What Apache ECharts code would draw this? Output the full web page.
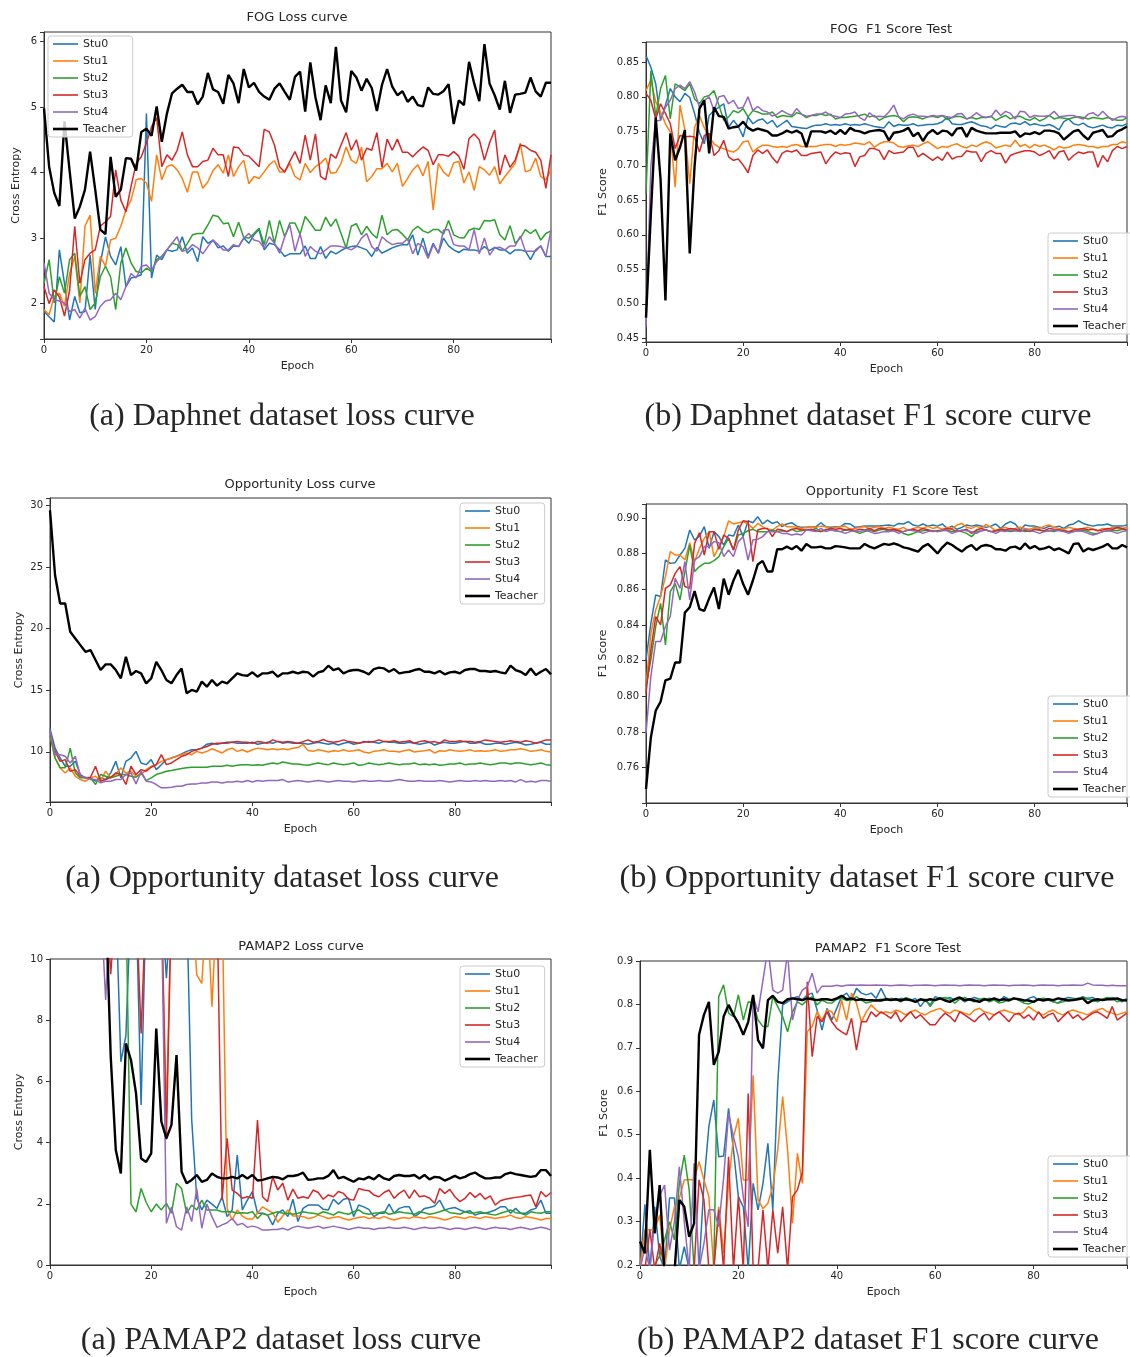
<!DOCTYPE html>
<html>
<head>
<meta charset="utf-8">
<script src="https://cdn.jsdelivr.net/npm/echarts@6/dist/echarts.min.js"></script>
<style>
  html, body { margin: 0; padding: 0; background: #fff; }
  #chart { width: 1130px; height: 1357px; }
</style>
</head>
<body>
<div id="chart"></div>
<script>
// ---- Daphnet (FOG) loss ----
var dLossS0 = [1.88,1.80,1.72,2.82,2.31,1.75,2.11,1.86,1.88,2.74, 1.91,2.62,3.02,2.72,2.59,2.87,2.26,2.39,2.41,2.44,
  4.90,2.39,2.74,2.67,2.82,2.80,2.82,3.02,2.77,2.85, 2.64,3.02,2.92,2.97,2.85,2.88,2.80,2.88,2.87,3.00,
  2.92,3.05,3.13,2.82,2.92,2.90,2.82,2.72,2.76,2.76, 2.76,2.88,2.69,2.69,2.87,2.69,2.80,2.76,2.81,2.85,
  2.87,2.88,2.85,2.82,2.72,2.86,2.77,2.81,2.85,2.88, 2.90,2.90,3.05,2.74,3.00,2.72,2.92,2.77,3.00,2.88,
  2.82,2.78,2.83,2.82,2.82,2.80,2.87,2.81,2.86,2.82, 2.82,2.76,2.82,2.82,2.80,2.67,2.82,2.88,2.72,2.72];
var dLossS1 = [1.91,1.83,2.11,2.16,1.96,2.46,2.72,2.01,3.18,3.35, 2.16,2.72,2.57,2.97,3.00,3.18,3.43,3.58,3.89,3.91,
  3.84,3.56,4.27,3.89,4.09,4.12,4.04,3.91,3.70,4.01, 4.01,3.76,3.86,4.03,4.12,3.99,4.27,3.94,4.09,4.19,
  3.83,3.94,3.91,4.01,4.12,4.18,4.01,4.01,4.14,3.94, 3.89,4.14,4.00,4.09,4.14,4.22,3.99,4.00,4.14,4.39,
  4.19,4.14,4.39,3.86,3.94,4.06,4.06,4.14,4.01,4.14, 3.79,3.91,4.04,4.12,3.95,4.17,3.43,4.14,4.01,3.94,
  4.15,4.17,3.84,4.01,3.73,4.09,4.04,3.96,4.09,3.83, 3.94,4.04,4.14,4.45,4.01,4.04,4.22,3.94,3.89,4.04];
var dLossS2 = [2.31,2.67,2.01,2.41,2.16,2.67,2.77,2.11,2.26,1.91, 2.01,2.41,2.57,2.41,1.91,2.62,2.85,2.62,2.49,2.47,
  2.54,2.49,2.67,2.72,2.82,2.92,2.90,2.80,2.92,3.05, 3.07,3.07,3.20,3.35,3.33,3.22,3.23,3.02,3.24,3.01,
  3.00,3.07,3.15,2.90,3.27,2.92,3.27,3.02,3.23,3.23, 3.06,3.33,3.23,3.12,3.12,3.32,3.18,3.29,3.07,2.85,
  3.18,3.22,3.05,3.18,3.07,3.00,3.35,3.05,3.12,3.13, 3.06,2.97,3.12,3.18,3.11,3.08,3.13,3.13,3.06,3.27,
  3.05,3.01,3.00,3.12,3.15,3.13,3.27,3.26,3.28,3.05, 2.97,3.19,2.92,3.00,3.13,3.07,3.13,2.97,3.07,3.11];
var dLossS3 = [2.26,2.00,2.21,2.10,1.81,2.20,3.18,2.31,2.67,2.77, 2.82,3.18,3.25,3.33,4.04,3.58,3.40,3.79,4.14,4.24,
  4.45,4.70,4.84,4.09,4.27,4.19,4.34,4.62,4.27,4.09, 4.09,4.17,4.19,4.37,4.27,4.27,3.94,4.39,4.38,4.27,
  4.25,4.17,4.09,4.66,4.62,4.42,4.09,4.01,4.17,4.32, 4.14,4.57,4.19,4.59,3.94,3.89,4.28,4.22,4.42,4.61,
  4.34,4.50,4.19,4.37,4.34,4.61,4.08,4.51,4.34,4.51, 4.31,4.31,4.24,4.32,4.39,4.34,4.12,4.27,4.27,4.25,
  4.32,4.25,4.05,4.52,4.59,4.50,4.19,4.45,4.65,3.96, 4.27,4.08,4.19,4.42,4.40,4.34,4.31,4.19,3.76,4.27];
var dLossS4 = [2.62,2.16,2.06,2.04,2.01,1.88,1.91,1.78,1.93,1.75, 1.80,1.96,2.04,2.06,2.16,2.06,2.26,2.46,2.39,2.57,
  2.59,2.51,2.64,2.72,2.82,2.92,3.02,2.80,2.82,2.90, 2.85,2.76,2.87,2.97,2.90,2.82,2.82,2.90,2.87,3.00,
  3.07,2.97,2.95,2.85,3.02,2.92,2.77,3.02,3.20,2.80, 3.07,2.72,2.87,2.80,2.76,2.82,2.88,2.88,2.87,2.85,
  2.82,2.87,3.00,3.07,2.87,2.80,3.02,2.95,2.90,2.92, 2.92,2.99,2.76,2.92,2.87,2.69,2.90,2.77,3.12,3.13,
  2.90,2.88,2.88,2.82,3.13,2.76,3.00,2.74,2.85,2.86, 2.82,2.88,2.88,3.03,2.80,2.80,2.80,2.88,2.72,3.13];
var dLossT = [4.98,4.09,3.69,3.49,4.78,4.03,3.30,3.48,3.74,4.32, 3.74,3.13,3.06,4.24,3.63,3.74,4.22,4.21,4.03,4.62,
  4.67,4.56,5.01,4.47,4.90,5.21,5.28,5.34,5.23,5.23, 5.04,5.16,5.52,5.27,5.23,5.05,5.49,5.36,5.06,5.58,
  5.30,5.37,5.23,5.16,5.11,5.28,5.36,5.23,5.11,5.46, 5.54,4.93,5.68,5.15,4.80,5.33,5.06,5.92,5.10,4.92,
  5.55,5.45,5.25,5.43,5.29,4.94,5.34,5.58,5.31,5.18, 5.24,5.08,5.16,5.03,5.01,5.30,5.20,5.19,5.24,5.35,
  4.74,5.10,5.03,5.69,5.36,5.09,5.96,5.36,5.18,4.96, 5.40,4.91,5.19,5.20,5.22,5.45,5.24,5.16,5.37,5.37];

// ---- Daphnet (FOG) F1 ----
var dF1S0 = [0.860,0.843,0.819,0.766,0.788,0.812,0.800,0.793,0.805,0.799, 0.776,0.748,0.732,0.773,0.780,0.785,0.790,0.756,0.766,0.757,
  0.742,0.771,0.761,0.766,0.768,0.761,0.766,0.756,0.761,0.766, 0.757,0.756,0.755,0.754,0.757,0.759,0.759,0.761,0.759,0.760,
  0.759,0.761,0.759,0.760,0.759,0.761,0.759,0.757,0.756,0.755, 0.764,0.757,0.760,0.759,0.759,0.761,0.758,0.759,0.760,0.760,
  0.761,0.764,0.770,0.761,0.760,0.760,0.762,0.764,0.761,0.758, 0.757,0.754,0.759,0.757,0.756,0.761,0.762,0.760,0.764,0.759,
  0.761,0.759,0.758,0.760,0.757,0.752,0.764,0.768,0.761,0.759, 0.762,0.757,0.755,0.757,0.759,0.756,0.755,0.759,0.758,0.761];
var dF1S1 = [0.809,0.824,0.793,0.778,0.761,0.749,0.669,0.788,0.752,0.674, 0.756,0.773,0.755,0.742,0.732,0.727,0.725,0.722,0.720,0.725,
  0.735,0.736,0.720,0.726,0.730,0.730,0.728,0.727,0.728,0.727, 0.730,0.731,0.728,0.728,0.728,0.728,0.730,0.731,0.731,0.728,
  0.731,0.730,0.731,0.733,0.732,0.731,0.735,0.727,0.732,0.735, 0.735,0.733,0.728,0.727,0.729,0.730,0.728,0.732,0.735,0.730,
  0.725,0.728,0.727,0.730,0.732,0.728,0.726,0.730,0.728,0.732, 0.735,0.732,0.726,0.728,0.730,0.728,0.737,0.728,0.731,0.726,
  0.731,0.728,0.730,0.727,0.723,0.728,0.726,0.727,0.730,0.731, 0.730,0.728,0.728,0.726,0.728,0.728,0.731,0.731,0.735,0.733];
var dF1S2 = [0.660,0.838,0.771,0.812,0.831,0.768,0.819,0.814,0.809,0.819, 0.797,0.790,0.800,0.802,0.809,0.788,0.766,0.771,0.780,0.777,
  0.783,0.771,0.780,0.778,0.775,0.775,0.778,0.770,0.773,0.772, 0.771,0.777,0.775,0.770,0.773,0.773,0.775,0.773,0.775,0.768,
  0.770,0.770,0.771,0.772,0.773,0.775,0.771,0.773,0.766,0.770, 0.772,0.773,0.771,0.764,0.770,0.771,0.770,0.768,0.771,0.772,
  0.770,0.773,0.767,0.770,0.772,0.771,0.768,0.770,0.768,0.770, 0.770,0.772,0.766,0.770,0.773,0.768,0.771,0.772,0.768,0.766,
  0.770,0.765,0.768,0.773,0.768,0.770,0.769,0.768,0.770,0.771, 0.770,0.768,0.770,0.769,0.768,0.770,0.768,0.766,0.766,0.770];
var dF1S3 = [0.805,0.795,0.768,0.790,0.776,0.761,0.725,0.744,0.742,0.743, 0.742,0.720,0.744,0.747,0.715,0.722,0.737,0.713,0.708,0.710,
  0.701,0.690,0.715,0.723,0.718,0.723,0.712,0.704,0.718,0.722, 0.720,0.723,0.715,0.715,0.718,0.719,0.720,0.703,0.713,0.720,
  0.717,0.719,0.718,0.699,0.713,0.715,0.725,0.725,0.722,0.709, 0.722,0.718,0.719,0.720,0.727,0.727,0.713,0.718,0.713,0.708,
  0.713,0.708,0.720,0.710,0.713,0.714,0.722,0.720,0.720,0.706, 0.718,0.722,0.718,0.718,0.704,0.715,0.718,0.720,0.722,0.722,
  0.720,0.715,0.718,0.722,0.710,0.720,0.722,0.708,0.715,0.720, 0.718,0.720,0.720,0.698,0.715,0.706,0.722,0.728,0.725,0.728];
var dF1S4 = [0.466,0.700,0.765,0.766,0.785,0.795,0.812,0.817,0.812,0.822, 0.807,0.785,0.795,0.800,0.780,0.800,0.802,0.790,0.795,0.783,
  0.785,0.800,0.780,0.786,0.780,0.778,0.772,0.775,0.780,0.776, 0.773,0.783,0.775,0.772,0.773,0.775,0.775,0.778,0.773,0.772,
  0.770,0.775,0.776,0.778,0.770,0.766,0.777,0.771,0.772,0.771, 0.778,0.788,0.771,0.768,0.773,0.775,0.772,0.772,0.771,0.773,
  0.772,0.773,0.771,0.770,0.775,0.776,0.768,0.771,0.777,0.772, 0.770,0.771,0.781,0.773,0.779,0.776,0.768,0.779,0.778,0.770,
  0.773,0.772,0.772,0.773,0.779,0.771,0.772,0.773,0.773,0.770, 0.768,0.775,0.777,0.772,0.779,0.772,0.766,0.770,0.772,0.770];
var dF1T = [0.480,0.630,0.770,0.680,0.505,0.747,0.708,0.727,0.752,0.573, 0.700,0.783,0.795,0.718,0.785,0.772,0.771,0.754,0.756,0.757,
  0.764,0.755,0.751,0.754,0.752,0.750,0.744,0.744,0.747,0.751, 0.748,0.751,0.747,0.727,0.750,0.750,0.750,0.748,0.751,0.746,
  0.752,0.746,0.755,0.751,0.750,0.747,0.750,0.751,0.752,0.750, 0.737,0.748,0.749,0.751,0.755,0.743,0.748,0.736,0.747,0.752,
  0.746,0.751,0.750,0.744,0.754,0.755,0.742,0.755,0.751,0.749, 0.747,0.747,0.747,0.748,0.748,0.748,0.750,0.742,0.747,0.746,
  0.749,0.746,0.751,0.751,0.750,0.747,0.738,0.744,0.750,0.752, 0.744,0.738,0.748,0.750,0.752,0.742,0.743,0.750,0.753,0.757];

// ---- Opportunity loss ----
var oLossS0 = [11.9,10.3,9.5,8.83,8.83,9.23,8.16,7.89,7.89,7.62, 7.89,7.75,8.29,9.23,7.89,9.23,9.5,10.04,9.1,8.96,
  9.37,8.56,8.96,9.37,9.5,9.64,9.83,10.04,10.17,10.17, 10.3,10.62,10.7,10.62,10.7,10.7,10.78,10.7,10.7,10.7,
  10.78,10.62,10.7,10.78,10.7,10.85,10.7,10.78,10.7,10.7, 10.7,10.62,10.7,10.78,10.7,10.62,10.7,10.55,10.7,10.78,
  10.62,10.7,10.78,10.85,10.78,10.7,10.85,10.78,10.78,10.7, 10.7,10.78,10.7,10.62,10.7,10.78,10.55,10.7,10.78,10.7,
  10.7,10.78,10.85,10.7,10.7,10.78,10.62,10.62,10.7,10.7, 10.62,10.7,10.78,10.7,10.55,10.62,10.7,10.78,10.62,10.62];
var oLossS1 = [11.37,9.5,8.7,8.29,8.7,8.02,7.75,7.62,7.89,8.02, 7.62,8.43,7.89,8.16,8.7,8.29,8.43,8.02,8.16,8.56,
  8.83,8.96,9.23,9.37,9.5,9.64,9.77,9.91,9.77,10.04, 9.91,10.04,10.25,10.09,9.91,10.17,10.3,10.04,10.17,9.99,
  10.17,10.3,10.25,10.17,10.25,10.17,10.25,10.17,10.3,10.35, 10.6,10.1,10.04,10.17,10.09,9.99,10.09,10.04,10.17,10.04,
  10.09,10.17,9.99,9.91,10.04,10.09,10.17,10.04,10.04,9.99, 10.09,10.17,9.99,10.04,10.09,10.17,9.91,10.09,10.04,10.17,
  10.09,10.04,10.09,10.17,10.04,10.09,10.04,10.09,10.17,10.04, 10.09,10.17,10.17,10.25,10.17,10.04,10.09,10.17,10.04,9.99];
var oLossS2 = [11.37,9.5,8.7,8.7,10.3,8.29,7.89,7.89,7.89,7.35, 8.16,8.02,7.89,8.02,8.16,8.16,8.02,7.94,8.29,7.67,
  7.89,8.16,8.29,8.43,8.48,8.56,8.64,8.7,8.75,8.75, 8.75,8.75,8.83,8.83,8.83,8.91,8.83,8.91,8.96,8.96,
  8.91,8.96,8.91,9.02,9.1,9.02,9.18,9.1,9.02,9.02, 8.96,8.91,9.02,9.1,9.02,8.96,9.1,9.02,8.96,9.02,
  9.1,8.91,8.96,9.1,9.02,8.96,9.02,9.1,9.02,8.96, 9.02,9.02,9.1,8.96,9.02,8.96,9.02,8.91,8.96,9.02,
  9.02,9.1,8.96,9.02,9.02,9.1,9.02,8.96,9.02,9.1, 9.1,9.02,9.1,9.1,9.02,8.96,9.02,9.1,8.96,8.91];
var oLossS3 = [11.64,10.04,9.23,9.37,8.43,8.56,8.02,7.89,7.94,8.83, 7.62,7.75,7.94,8.29,8.16,7.35,8.83,8.16,8.56,8.43,
  8.75,8.96,9.77,8.96,9.1,9.37,9.64,9.77,10.04,10.17, 10.3,10.43,10.62,10.7,10.7,10.78,10.78,10.83,10.78,10.78,
  10.7,10.83,10.78,10.7,10.97,10.83,10.78,10.83,10.78,10.7, 10.83,10.97,10.78,10.83,11.0,10.83,10.78,10.83,10.97,10.83,
  10.78,10.7,10.83,10.78,10.83,10.97,10.83,10.83,10.9,10.78, 10.83,10.9,10.7,10.83,10.9,10.78,10.83,10.7,10.97,10.83,
  10.83,10.9,10.83,10.83,10.78,10.83,10.97,10.9,10.83,10.78, 10.83,10.9,10.83,10.78,10.9,10.83,10.7,10.83,10.97,10.97];
var oLossS4 = [11.77,9.77,9.77,9.64,9.1,9.64,8.02,7.94,7.75,7.75, 7.48,7.62,7.62,7.75,7.75,8.16,8.29,7.4,8.43,7.62,
  7.56,7.35,7.08,7.08,7.13,7.21,7.21,7.35,7.4,7.4, 7.48,7.48,7.56,7.56,7.48,7.56,7.56,7.62,7.56,7.67,
  7.56,7.67,7.62,7.67,7.67,7.67,7.75,7.56,7.62,7.67, 7.62,7.56,7.62,7.67,7.62,7.56,7.62,7.67,7.62,7.62,
  7.56,7.62,7.67,7.62,7.62,7.67,7.62,7.62,7.67,7.75, 7.67,7.62,7.62,7.67,7.62,7.62,7.62,7.67,7.62,7.56,
  7.62,7.67,7.62,7.62,7.67,7.62,7.67,7.62,7.62,7.67, 7.62,7.67,7.56,7.75,7.56,7.62,7.56,7.67,7.67,7.62];
var oLossT = [29.6,24.33,22.04,22.04,19.74,19.2,18.66,18.12,18.26,17.45, 16.64,17.1,17.1,16.64,15.97,17.72,16.23,16.56,16.37,15.56,
  15.97,17.31,16.64,15.83,15.56,16.23,16.77,14.75,15.02,14.88, 15.7,15.29,15.83,15.37,15.7,15.56,15.97,16.37,16.23,16.18,
  16.45,16.1,16.37,16.37,16.5,16.1,16.37,16.37,16.5,16.37, 16.5,16.45,16.1,16.45,16.56,16.99,16.64,16.77,16.37,16.56,
  16.64,16.64,16.5,16.29,16.72,16.83,16.77,16.5,16.72,16.37, 16.45,16.5,16.64,16.72,16.5,16.5,16.37,16.56,16.29,16.45,
  16.5,16.37,16.64,16.72,16.72,16.56,16.56,16.5,16.56,16.45, 16.37,16.99,16.64,16.5,16.23,16.77,16.23,16.5,16.72,16.29];

// ---- Opportunity F1 ----
var oF1S0 = [0.8205,0.841,0.8569,0.856,0.8765,0.8746,0.875,0.8793,0.883,0.8933, 0.8877,0.8899,0.8952,0.883,0.8924,0.8896,0.8849,0.8905,0.8899,0.8961,
  0.8896,0.8985,0.8974,0.9008,0.8967,0.8989,0.897,0.898,0.8952,0.8967, 0.8974,0.8955,0.8948,0.8948,0.8952,0.8952,0.8974,0.8952,0.8948,0.8952,
  0.8952,0.897,0.8967,0.8948,0.8952,0.8955,0.8955,0.8955,0.8955,0.8959, 0.8961,0.8955,0.897,0.8967,0.898,0.8961,0.8955,0.8967,0.8955,0.8961,
  0.8955,0.8967,0.8942,0.8955,0.8937,0.8948,0.8961,0.8955,0.8961,0.8956, 0.8948,0.8955,0.8967,0.8942,0.8967,0.898,0.8967,0.8933,0.8961,0.8955,
  0.8955,0.8948,0.8942,0.8955,0.8948,0.8955,0.8942,0.8961,0.8967,0.8985, 0.897,0.8961,0.8955,0.8961,0.8961,0.8967,0.8956,0.8955,0.8955,0.8961];
var oF1S1 = [0.8056,0.8354,0.8485,0.856,0.8672,0.8812,0.8793,0.8793,0.8765,0.8862, 0.8756,0.883,0.8886,0.8924,0.8784,0.884,0.8896,0.8985,0.8967,0.8974,
  0.898,0.8967,0.8942,0.897,0.8952,0.8937,0.8933,0.8952,0.8967,0.8952, 0.8952,0.8948,0.8942,0.8948,0.8952,0.8948,0.8955,0.8952,0.8942,0.8948,
  0.8952,0.8955,0.8937,0.8942,0.8948,0.8952,0.8942,0.8948,0.8952,0.8942, 0.8948,0.8942,0.8937,0.8948,0.893,0.8942,0.8948,0.8942,0.8955,0.8942,
  0.8948,0.8937,0.8948,0.8942,0.8961,0.897,0.8948,0.8942,0.8955,0.8942, 0.8965,0.8948,0.893,0.8942,0.8948,0.8937,0.8942,0.8948,0.8942,0.8937,
  0.8948,0.8942,0.8955,0.8961,0.8948,0.8942,0.8937,0.8948,0.8942,0.8937, 0.8942,0.8948,0.8937,0.893,0.8942,0.8937,0.8948,0.8942,0.8942,0.8948];
var oF1S2 = [0.8056,0.8205,0.8392,0.8522,0.8289,0.8588,0.8634,0.8541,0.87,0.8849, 0.87,0.8728,0.8746,0.8746,0.8761,0.8784,0.884,0.8886,0.8821,0.8905,
  0.8914,0.8929,0.8937,0.8924,0.8924,0.8924,0.8933,0.8924,0.8929,0.8924, 0.8937,0.8924,0.8929,0.8937,0.8933,0.8942,0.8924,0.8937,0.8933,0.8929,
  0.8924,0.8933,0.8933,0.8924,0.8914,0.8924,0.8933,0.8924,0.8933,0.8937, 0.8924,0.8933,0.8929,0.8914,0.8905,0.8914,0.8924,0.8929,0.8933,0.8929,
  0.8924,0.8929,0.8933,0.8924,0.8929,0.8924,0.8914,0.8896,0.8924,0.8929, 0.8933,0.8924,0.8929,0.8933,0.8929,0.8924,0.8929,0.8933,0.8924,0.8929,
  0.8937,0.8933,0.8924,0.8929,0.8924,0.8933,0.8929,0.8924,0.8924,0.8929, 0.8933,0.8924,0.8914,0.8914,0.8924,0.8929,0.8933,0.8929,0.8937,0.8933];
var oF1S3 = [0.8018,0.8261,0.8448,0.8401,0.8606,0.8625,0.869,0.8728,0.8616,0.8606, 0.8858,0.8918,0.8793,0.8924,0.8924,0.8825,0.8905,0.8886,0.8821,0.8933,
  0.8985,0.898,0.8756,0.8933,0.8942,0.8942,0.8896,0.8937,0.8933,0.8924, 0.8937,0.8942,0.8933,0.8933,0.8937,0.8929,0.8924,0.8933,0.8942,0.8937,
  0.8942,0.8933,0.8937,0.8929,0.8937,0.8933,0.8942,0.8929,0.8942,0.8942, 0.8933,0.8937,0.8929,0.8924,0.8933,0.8937,0.8929,0.8942,0.8933,0.8924,
  0.8929,0.8933,0.8942,0.8937,0.8924,0.8929,0.8937,0.8914,0.8933,0.8942, 0.8933,0.8924,0.8929,0.8937,0.8933,0.8942,0.8937,0.8929,0.8933,0.8924,
  0.8937,0.8933,0.8929,0.8942,0.8937,0.8933,0.8929,0.8924,0.8933,0.8937, 0.8942,0.8933,0.8937,0.8929,0.8933,0.8942,0.8937,0.8948,0.8942,0.8933];
var oF1S4 = [0.7794,0.8112,0.8308,0.8308,0.8392,0.8448,0.8662,0.8606,0.8756,0.8541, 0.8765,0.8784,0.884,0.884,0.8868,0.8862,0.8784,0.8821,0.8784,0.8868,
  0.8896,0.8765,0.8877,0.8881,0.8896,0.8924,0.8924,0.8924,0.8914,0.8914, 0.8905,0.8911,0.8905,0.8933,0.8929,0.8924,0.8942,0.8924,0.8933,0.8929,
  0.8924,0.8914,0.8924,0.8929,0.8924,0.8933,0.8924,0.8914,0.8918,0.8924, 0.8924,0.8929,0.8914,0.8924,0.8933,0.8929,0.8924,0.8914,0.8924,0.8929,
  0.8924,0.8933,0.8929,0.8914,0.8924,0.8933,0.8929,0.8924,0.8914,0.8929, 0.8933,0.8924,0.8914,0.8929,0.8924,0.8933,0.8929,0.8924,0.8937,0.8929,
  0.8924,0.8914,0.8924,0.8929,0.8933,0.8929,0.8924,0.8914,0.8924,0.8929, 0.8924,0.8914,0.8905,0.8914,0.8924,0.8929,0.8924,0.8914,0.8924,0.8929];
var oF1T = [0.748,0.777,0.792,0.797,0.809,0.810,0.819,0.819,0.847,0.850, 0.859,0.849,0.848,0.855,0.861,0.849,0.866,0.857,0.865,0.871,
  0.863,0.857,0.865,0.874,0.876,0.870,0.870,0.8825,0.8825,0.884, 0.8825,0.8843,0.8817,0.8855,0.8836,0.8836,0.884,0.883,0.883,0.8843,
  0.884,0.8836,0.883,0.883,0.883,0.8855,0.884,0.883,0.8843,0.8855, 0.885,0.8858,0.8849,0.8836,0.883,0.8821,0.8812,0.884,0.8855,0.883,
  0.8802,0.8836,0.8862,0.8849,0.883,0.8812,0.8836,0.8849,0.8821,0.8843, 0.8849,0.8843,0.8825,0.8825,0.8817,0.8836,0.884,0.8825,0.8858,0.883,
  0.8843,0.8825,0.883,0.884,0.8821,0.883,0.8817,0.8802,0.8855,0.8858, 0.8812,0.883,0.8821,0.883,0.884,0.8855,0.883,0.883,0.8849,0.8836];

// ---- PAMAP2 loss (12 = above the visible range) ----
var pLossS0 = [12,12,12,12,12,12,12,12,12,12, 12,12,12,12,6.64,7.5,12,12,5.23,12,
  12,12,12,9.37,12,12,12,12,4.74,2.18, 1.80,2.12,1.99,1.85,2.23,1.58,1.80,3.59,1.80,2.12,
  2.40,1.69,1.69,1.63,1.31,1.69,1.80,1.58,2.15,1.42, 1.85,1.96,1.96,1.96,1.82,1.80,2.15,1.99,2.15,2.18,
  1.58,1.96,1.90,1.82,1.58,1.69,1.69,1.99,1.69,1.85, 1.90,1.90,1.58,1.69,1.85,1.88,1.93,2.12,1.80,1.85,
  1.88,1.80,1.74,1.77,1.63,1.69,1.69,1.74,1.80,1.90, 1.90,1.69,1.85,1.69,1.69,1.80,1.85,2.12,1.69,1.69];
var pLossS1 = [12,12,12,12,12,12,12,12,12,12, 12,12,12,12,12,12,12,12,12,12,
  12,12,12,4.97,12,12,12,12,12,9.48, 9.2,12,8.44,12,12,1.85,1.47,1.80,1.60,1.50,
  1.50,1.69,1.90,1.80,1.70,1.40,1.60,1.80,1.60,1.60, 1.58,1.52,1.55,1.63,1.58,1.52,1.55,1.58,1.52,1.47,
  1.52,1.55,1.58,1.52,1.55,1.52,1.58,1.52,1.47,1.52, 1.55,1.52,1.58,1.55,1.52,1.58,1.55,1.52,1.47,1.52,
  1.58,1.55,1.52,1.58,1.55,1.52,1.58,1.55,1.52,1.55, 1.58,1.63,1.55,1.52,1.58,1.55,1.52,1.47,1.52,1.52];
var pLossS2 = [12,12,12,12,12,12,12,12,12,12, 12,12,12,12,12,12,1.99,1.74,2.50,2.05,
  1.74,1.99,1.80,2.02,1.69,2.67,2.50,1.69,1.96,1.80, 2.12,1.80,1.80,1.80,1.74,1.74,1.74,1.69,1.71,1.69,
  1.74,1.52,1.69,1.63,1.69,1.74,1.69,1.69,1.66,1.69, 1.74,1.71,1.69,1.66,1.74,1.69,1.63,1.74,1.69,1.66,
  1.74,1.80,1.69,1.66,1.69,1.71,1.74,1.66,1.69,1.74, 1.71,1.69,1.66,1.74,1.71,1.66,1.69,1.74,1.80,1.71,
  1.69,1.66,1.74,1.69,1.71,1.74,1.69,1.66,1.63,1.69, 1.74,1.80,1.71,1.69,1.63,1.74,1.71,1.69,1.74,1.74];
var pLossS3 = [12,12,12,12,12,12,12,12,12,12, 12,12,9.5,12,12,12,12,12,7.57,12,
  12,12,12,4.1,12,12,12,12,12,12, 12,12,12,12,2.12,4.14,2.45,2.34,2.18,2.23,
  2.18,4.74,2.23,2.07,2.88,2.45,2.67,2.12,2.48,2.18, 2.23,2.18,2.45,2.37,2.15,2.29,2.23,2.40,2.34,2.15,
  2.12,2.50,2.45,2.43,2.29,2.23,2.37,2.45,2.18,2.34, 2.45,2.18,2.45,2.23,2.26,2.18,2.02,2.50,2.34,2.47,
  2.23,2.07,2.18,2.37,2.21,2.34,2.15,2.26,1.96,2.10, 2.15,2.18,2.21,2.23,2.26,2.29,1.90,2.40,2.23,2.37];
var pLossS4 = [12,12,12,12,12,12,12,12,12,12, 12,8.66,12,12,12,12,12,12,12,12,
  12,12,12,1.36,1.90,1.25,1.14,1.90,1.42,2.50, 1.20,1.99,1.58,1.23,1.31,1.38,1.52,1.31,1.36,1.23,
  1.27,1.23,1.14,1.14,1.16,1.16,1.20,1.14,1.23,1.27, 1.23,1.20,1.23,1.27,1.20,1.23,1.27,1.23,1.20,1.16,
  1.20,1.23,1.20,1.20,1.16,1.20,1.20,1.23,1.20,1.20, 1.23,1.20,1.16,1.20,1.23,1.20,1.20,1.23,1.20,1.16,
  1.20,1.20,1.16,1.20,1.23,1.20,1.16,1.20,1.23,1.20, 1.20,1.16,1.20,1.23,1.20,1.16,1.20,1.23,1.20,1.14];
var pLossT = [12,12,12,12,12,12,12,12,12,12, 12,12,6.81,3.76,2.99,7.24,6.70,5.61,3.48,3.37,
  3.65,7.73,4.69,4.14,4.58,6.86,3.05,2.67,2.78,2.94, 2.72,2.78,2.99,2.88,2.83,2.83,2.88,2.83,2.94,2.83,
  2.94,2.76,2.78,2.83,2.88,2.86,2.80,2.91,2.91,2.94, 3.02,2.78,2.80,2.83,2.83,2.91,3.10,2.83,2.88,2.80,
  2.72,2.83,2.80,2.88,2.80,2.94,2.83,2.78,2.91,2.94, 2.91,2.91,2.94,2.83,2.94,2.80,2.88,2.86,2.76,2.83,
  2.91,2.83,2.88,2.97,3.02,2.91,2.83,2.83,2.86,2.86, 2.97,3.02,2.97,2.94,2.91,2.88,2.91,3.10,3.10,2.91];

// ---- PAMAP2 F1 (values under 0.2 fall below the visible range) ----
var pF1S0 = [0.19,0.34,0.19,0.334,0.22,0.19,0.354,0.354,0.19,0.242, 0.19,0.19,0.19,0.388,0.519,0.580,0.449,0.451,0.561,0.465,
  0.357,0.334,0.19,0.388,0.327,0.388,0.480,0.327,0.618,0.799, 0.806,0.814,0.818,0.810,0.822,0.826,0.787,0.741,0.791,0.764,
  0.791,0.818,0.826,0.810,0.837,0.826,0.822,0.826,0.814,0.837, 0.814,0.812,0.810,0.814,0.812,0.809,0.814,0.795,0.810,0.799,
  0.818,0.814,0.812,0.816,0.810,0.814,0.806,0.812,0.816,0.812, 0.810,0.814,0.812,0.806,0.818,0.812,0.814,0.810,0.806,0.814,
  0.818,0.810,0.814,0.812,0.806,0.803,0.812,0.816,0.814,0.812, 0.818,0.814,0.816,0.810,0.812,0.814,0.816,0.812,0.806,0.814];
var pF1S1 = [0.19,0.281,0.281,0.281,0.315,0.19,0.281,0.334,0.354,0.396, 0.397,0.396,0.438,0.396,0.357,0.19,0.334,0.227,0.388,0.495,
  0.538,0.396,0.396,0.637,0.350,0.330,0.342,0.380,0.465,0.588, 0.465,0.296,0.457,0.388,0.737,0.749,0.783,0.764,0.787,0.783,
  0.760,0.810,0.764,0.826,0.803,0.760,0.783,0.799,0.787,0.780, 0.783,0.780,0.787,0.783,0.776,0.783,0.787,0.780,0.776,0.783,
  0.787,0.791,0.783,0.780,0.787,0.783,0.780,0.776,0.787,0.791, 0.783,0.780,0.776,0.783,0.787,0.783,0.780,0.776,0.783,0.795,
  0.787,0.780,0.776,0.783,0.787,0.780,0.776,0.783,0.787,0.783, 0.780,0.776,0.783,0.787,0.791,0.783,0.780,0.776,0.780,0.783];
var pF1S2 = [0.19,0.19,0.19,0.20,0.221,0.258,0.30,0.258,0.388,0.453, 0.373,0.19,0.19,0.19,0.19,0.19,0.818,0.845,0.780,0.772,
  0.822,0.764,0.806,0.803,0.764,0.749,0.749,0.818,0.795,0.772, 0.737,0.783,0.806,0.799,0.810,0.818,0.799,0.810,0.804,0.803,
  0.812,0.814,0.809,0.810,0.818,0.810,0.803,0.806,0.810,0.812, 0.810,0.814,0.812,0.806,0.816,0.812,0.806,0.810,0.812,0.795,
  0.812,0.814,0.816,0.812,0.803,0.812,0.816,0.810,0.806,0.812, 0.814,0.806,0.810,0.803,0.806,0.812,0.814,0.810,0.803,0.801,
  0.806,0.812,0.814,0.810,0.806,0.803,0.806,0.810,0.812,0.814, 0.816,0.812,0.810,0.806,0.812,0.816,0.814,0.806,0.810,0.812];
var pF1S3 = [0.19,0.19,0.281,0.19,0.25,0.19,0.19,0.19,0.19,0.19, 0.19,0.19,0.396,0.350,0.19,0.19,0.327,0.19,0.449,0.19,
  0.357,0.19,0.595,0.19,0.19,0.327,0.19,0.327,0.227,0.334, 0.19,0.357,0.373,0.413,0.852,0.680,0.772,0.760,0.783,0.760,
  0.745,0.737,0.730,0.768,0.695,0.760,0.760,0.783,0.772,0.783, 0.776,0.768,0.783,0.760,0.772,0.783,0.768,0.776,0.764,0.753,
  0.753,0.768,0.780,0.772,0.760,0.783,0.776,0.768,0.760,0.772, 0.780,0.764,0.776,0.783,0.772,0.760,0.776,0.780,0.768,0.776,
  0.764,0.783,0.768,0.776,0.780,0.760,0.772,0.783,0.768,0.776, 0.764,0.772,0.780,0.783,0.776,0.768,0.795,0.764,0.772,0.780];
var pF1S4 = [0.19,0.24,0.19,0.30,0.36,0.384,0.234,0.30,0.426,0.30, 0.19,0.434,0.19,0.25,0.327,0.327,0.288,0.40,0.549,0.495,
  0.449,0.357,0.288,0.818,0.783,0.856,0.93,0.833,0.826,0.833, 0.92,0.764,0.810,0.833,0.841,0.872,0.826,0.842,0.842,0.842,
  0.844,0.842,0.844,0.845,0.844,0.845,0.844,0.844,0.845,0.844, 0.844,0.843,0.844,0.845,0.844,0.843,0.844,0.844,0.845,0.844,
  0.843,0.844,0.845,0.844,0.844,0.843,0.844,0.845,0.844,0.844, 0.843,0.844,0.845,0.844,0.844,0.843,0.844,0.844,0.845,0.844,
  0.843,0.844,0.845,0.844,0.844,0.843,0.844,0.844,0.845,0.844, 0.844,0.849,0.845,0.844,0.844,0.843,0.844,0.843,0.843,0.843];
var pF1T = [0.254,0.227,0.465,0.273,0.384,0.18,0.18,0.18,0.35,0.334, 0.265,0.296,0.730,0.776,0.806,0.661,0.691,0.772,0.799,0.776,
  0.757,0.730,0.760,0.822,0.718,0.699,0.810,0.820,0.806,0.803, 0.812,0.814,0.812,0.810,0.814,0.812,0.810,0.812,0.812,0.810,
  0.814,0.820,0.812,0.814,0.810,0.812,0.810,0.810,0.809,0.809, 0.812,0.810,0.812,0.809,0.812,0.810,0.806,0.812,0.809,0.812,
  0.810,0.814,0.809,0.806,0.812,0.816,0.810,0.812,0.809,0.806, 0.812,0.810,0.814,0.810,0.812,0.809,0.814,0.812,0.810,0.809,
  0.806,0.812,0.809,0.812,0.810,0.814,0.812,0.809,0.810,0.812, 0.814,0.803,0.809,0.812,0.810,0.812,0.812,0.814,0.810,0.809];

var names = ['Stu0', 'Stu1', 'Stu2', 'Stu3', 'Stu4', 'Teacher'];
var colors = ['#1f77b4', '#ff7f0e', '#2ca02c', '#d62728', '#9467bd', '#000000'];
var panels = [
  [dLossS0, dLossS1, dLossS2, dLossS3, dLossS4, dLossT],
  [dF1S0, dF1S1, dF1S2, dF1S3, dF1S4, dF1T],
  [oLossS0, oLossS1, oLossS2, oLossS3, oLossS4, oLossT],
  [oF1S0, oF1S1, oF1S2, oF1S3, oF1S4, oF1T],
  [pLossS0, pLossS1, pLossS2, pLossS3, pLossS4, pLossT],
  [pF1S0, pF1S1, pF1S2, pF1S3, pF1S4, pF1T]
];

// layout of the six panels: grid box, y range, tick step, decimals, y name gap
var layout = [
  {grid: [44, 32, 507, 307], y: [1.46, 6.145], step: 1, dec: 0, name: 'Cross Entropy', gap: 22},
  {grid: [646, 42, 492, 300], y: [0.4447, 0.8795], step: 0.05, dec: 2, name: 'F1 Score', gap: 37},
  {grid: [50, 498, 501, 304], y: [5.93, 30.6], step: 5, dec: 0, name: 'Cross Entropy', gap: 25},
  {grid: [646, 504, 492, 299], y: [0.7402, 0.9079], step: 0.02, dec: 2, name: 'F1 Score', gap: 37},
  {grid: [50, 959, 501, 306], y: [0, 10], step: 2, dec: 0, name: 'Cross Entropy', gap: 25},
  {grid: [640, 961, 499, 304], y: [0.2, 0.9], step: 0.1, dec: 1, name: 'F1 Score', gap: 30}
];
var legendPos = [[48, 36], [1048, 233], [460, 503], [1048, 696], [460, 966], [1048, 1156]];

var font = 'DejaVu Sans';
var ink = '#262626';

function tickFmt(step, dec) {
  return function (v) {
    var k = v / step;
    return Math.abs(k - Math.round(k)) < 1e-6 ? v.toFixed(dec) : '';
  };
}

// thin line icons for the legend (thicker one for the teacher)
var thinIcon = 'path://M0,0H25V1.6H0Z';
var thickIcon = 'path://M0,0H25V2.6H0Z';
var legendData = names.map(function (n, k) {
  return {name: n, icon: k === 5 ? thickIcon : thinIcon};
});

var grids = [], xAxes = [], yAxes = [], series = [], legends = [];
layout.forEach(function (L, p) {
  grids.push({left: L.grid[0], top: L.grid[1], width: L.grid[2], height: L.grid[3],
    show: true, borderColor: '#333', borderWidth: 1, containLabel: false});
  xAxes.push({
    type: 'value', gridIndex: p, min: 0, max: 99, interval: 20,
    name: 'Epoch', nameLocation: 'middle', nameGap: 22,
    nameTextStyle: {fontFamily: font, fontSize: 11, color: ink},
    axisLine: {show: true, lineStyle: {color: '#333'}},
    axisTick: {show: true, length: 4, lineStyle: {color: '#333'}},
    axisLabel: {formatter: tickFmt(20, 0), margin: 6, fontFamily: font, fontSize: 10, color: ink},
    splitLine: {show: false}
  });
  var ya = {
    type: 'value', gridIndex: p, min: L.y[0], max: L.y[1],
    name: L.name, nameLocation: 'middle', nameGap: L.gap,
    nameTextStyle: {fontFamily: font, fontSize: 11, color: ink},
    axisLine: {show: true, lineStyle: {color: '#333'}},
    axisTick: {show: true, length: 4, lineStyle: {color: '#333'}},
    axisLabel: {formatter: tickFmt(L.step, L.dec), margin: 7, fontFamily: font, fontSize: 10, color: ink},
    splitLine: {show: false}
  };
  if (L.y[0] % L.step === 0 || p === 5) ya.interval = L.step; else ya.splitNumber = Math.round((L.y[1] - L.y[0]) / L.step);
  yAxes.push(ya);

  panels[p].forEach(function (arr, k) {
    series.push({
      name: names[k], type: 'line', xAxisIndex: p, yAxisIndex: p,
      symbol: 'none', showSymbol: false, clip: true,
      data: arr.map(function (v, i) { return [i, v]; }),
      lineStyle: {color: colors[k], width: k === 5 ? 2.4 : 1.5},
      itemStyle: {color: colors[k]}
    });
  });

  legends.push({
    data: legendData, orient: 'vertical', left: legendPos[p][0], top: legendPos[p][1],
    itemWidth: 25, itemHeight: 14, itemGap: 3, padding: [1, 7, 1, 5],
    symbolKeepAspect: true,
    textStyle: {fontFamily: font, fontSize: 11, color: ink, lineHeight: 14},
    borderColor: '#cccccc', borderWidth: 1, borderRadius: 3,
    backgroundColor: 'rgba(255,255,255,0.8)', selectedMode: false
  });
});

// plot titles and figure captions
var cap = 'Liberation Serif';
var texts = [
  [297, 18, 'FOG Loss curve', 13, font],
  [891, 30, 'FOG  F1 Score Test', 13, font],
  [300, 485, 'Opportunity Loss curve', 13, font],
  [892, 492, 'Opportunity  F1 Score Test', 13, font],
  [301, 947, 'PAMAP2 Loss curve', 13, font],
  [888, 949, 'PAMAP2  F1 Score Test', 13, font],
  [282, 417, '(a) Daphnet dataset loss curve', 32, cap],
  [868, 417, '(b) Daphnet dataset F1 score curve', 32, cap],
  [282, 879, '(a) Opportunity dataset loss curve', 32, cap],
  [867, 879, '(b) Opportunity dataset F1 score curve', 32, cap],
  [281, 1341, '(a) PAMAP2 dataset loss curve', 32, cap],
  [868, 1341, '(b) PAMAP2 dataset F1 score curve', 32, cap]
];
var graphics = texts.map(function (t) {
  return {
    type: 'text', x: t[0], y: t[1], silent: true,
    style: {text: t[2], font: t[3] + 'px "' + t[4] + '"', fill: ink,
      textAlign: 'center', textVerticalAlign: 'middle', align: 'center', verticalAlign: 'middle'}
  };
});

var myChart = echarts.init(document.getElementById('chart'), null, {renderer: 'canvas'});
myChart.setOption({
  animation: false,
  backgroundColor: '#ffffff',
  grid: grids,
  xAxis: xAxes,
  yAxis: yAxes,
  legend: legends,
  series: series,
  graphic: graphics
});
</script>
</body>
</html>
